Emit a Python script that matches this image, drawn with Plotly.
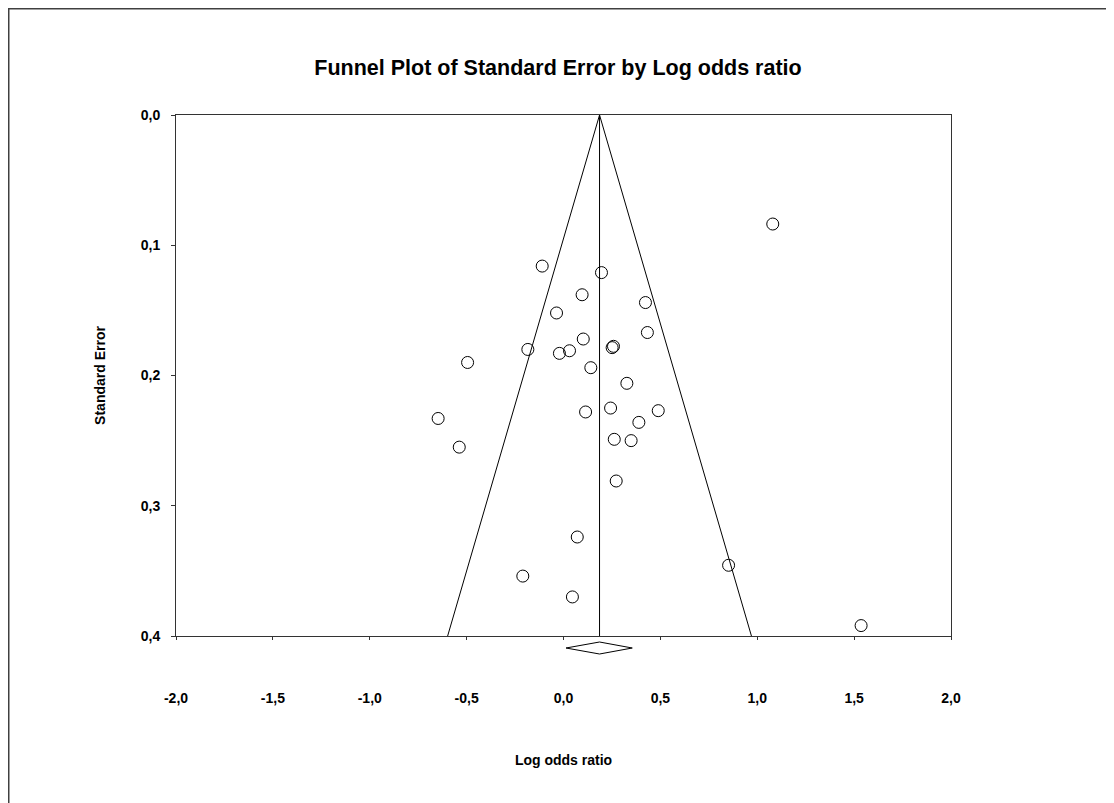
import plotly.graph_objects as go

# ---- data ----
log_odds = [-0.110, 0.196, 0.096, 0.423, -0.036, 0.433, 0.102, -0.184, -0.021, 0.031,
            0.251, 0.258, -0.495, 0.141, 0.327, -0.647, 0.114, 0.243, 0.489, 0.389,
            -0.538, 0.262, 0.349, 0.272, 0.071, -0.210, 0.046, 0.852, 1.536, 1.080]
std_err = [0.116, 0.121, 0.138, 0.144, 0.152, 0.167, 0.172, 0.180, 0.183, 0.181,
           0.1786, 0.1776, 0.190, 0.194, 0.206, 0.233, 0.228, 0.225, 0.227, 0.236,
           0.255, 0.249, 0.250, 0.281, 0.324, 0.354, 0.370, 0.3457, 0.392, 0.0837]

pooled_mean = 0.186
pooled_lo = 0.013
pooled_hi = 0.355
z = 1.96
se_max = 0.4

x_ticks = [-2.0, -1.5, -1.0, -0.5, 0.0, 0.5, 1.0, 1.5, 2.0]
x_tick_labels = ["-2,0", "-1,5", "-1,0", "-0,5", "0,0", "0,5", "1,0", "1,5", "2,0"]
y_ticks = [0.0, 0.1, 0.2, 0.3, 0.4]
y_tick_labels = ["0,0", "0,1", "0,2", "0,3", "0,4"]

FONT = "Arial, 'Liberation Sans', sans-serif"

fig = go.Figure()

# funnel (95% pseudo confidence limits)
fig.add_trace(go.Scatter(
    x=[pooled_mean - z * se_max, pooled_mean, pooled_mean + z * se_max],
    y=[se_max, 0.0, se_max],
    mode="lines", line=dict(color="black", width=1),
    hoverinfo="skip", showlegend=False))
# mean line
fig.add_trace(go.Scatter(
    x=[pooled_mean, pooled_mean], y=[0.0, se_max],
    mode="lines", line=dict(color="black", width=1),
    hoverinfo="skip", showlegend=False))
# studies
fig.add_trace(go.Scatter(
    x=log_odds, y=std_err, mode="markers",
    marker=dict(symbol="circle-open", size=12, color="black", line=dict(width=1)),
    showlegend=False, cliponaxis=False))
# pooled estimate diamond
fig.add_trace(go.Scatter(
    x=[pooled_lo, pooled_mean, pooled_hi, pooled_mean, pooled_lo],
    y=[0, 0.5, 0, -0.5, 0],
    xaxis="x", yaxis="y2", mode="lines",
    line=dict(color="black", width=1), fill="toself", fillcolor="white",
    hoverinfo="skip", showlegend=False))

# figure coordinates (page has an 8px body margin)
W, H = 1106, 795
L, T = 168, 107
R = W - 943
B = H - 652
pw = W - L - R
ph = H - T - B
main_bottom = (652 - 628) / ph

fig.update_layout(
    width=W, height=H,
    margin=dict(l=L, r=R, t=T, b=B),
    paper_bgcolor="white", plot_bgcolor="white",
    font=dict(family=FONT, color="black", size=14),
    title=dict(text="<b>Funnel Plot of Standard Error by Log odds ratio</b>",
               x=550 / W, xref="container", xanchor="center",
               y=1 - 59 / H, yanchor="middle",
               font=dict(family=FONT, size=21.5, color="black")),
    xaxis=dict(range=[-2, 2], tickvals=x_ticks, ticktext=x_tick_labels,
               showgrid=False, zeroline=False,
               showline=True, linecolor="#333333", linewidth=1, mirror=True,
               ticks="outside", ticklen=3, tickcolor="#333333",
               ticklabelstandoff=46,
               tickfont=dict(family=FONT, size=14, weight="bold"),
               title=dict(text="<b>Log odds ratio</b>", standoff=50,
                          font=dict(family=FONT, size=14)),
               anchor="y"),
    xaxis2=dict(matches="x", overlaying="x", anchor="y", side="bottom",
                tickvals=x_ticks, showticklabels=False,
                showgrid=False, zeroline=False, showline=False,
                ticks="inside", ticklen=3, tickcolor="#333333"),
    yaxis=dict(range=[se_max, 0], tickvals=y_ticks, ticktext=y_tick_labels,
               domain=[main_bottom, 1],
               showgrid=False, zeroline=False,
               showline=True, linecolor="#333333", linewidth=1, mirror=True,
               ticks="outside", ticklen=4, tickcolor="#333333",
               ticklabelstandoff=8,
               tickfont=dict(family=FONT, size=14, weight="bold"),
               title=dict(text="<b>Standard Error</b>", standoff=31,
                          font=dict(family=FONT, size=14)),
               anchor="x"),
    yaxis2=dict(domain=[0, main_bottom], range=[-1, 1], visible=False,
                showgrid=False, zeroline=False, anchor="x"),
    shapes=[dict(type="rect", xref="paper", yref="paper",
                 x0=(0.75 - L) / pw, x1=(W + 10 - L) / pw,
                 y0=(H - B - (H + 10)) / ph, y1=(H - B - 0.75) / ph,
                 line=dict(color="#404040", width=1.5), fillcolor="rgba(0,0,0,0)",
                 layer="below")],
)

fig.write_html("out.html")
